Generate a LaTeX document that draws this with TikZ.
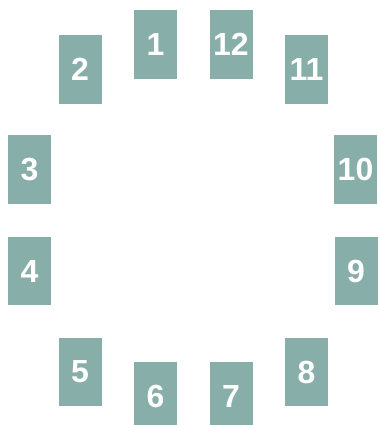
\documentclass[tikz,border=0pt]{standalone}
\usepackage{fontspec}
\setmainfont{Liberation Sans}
\usepackage{xcolor}
\usepackage{tikz}
\definecolor{tileGrey}{RGB}{136,174,170}

\begin{document}
\begin{tikzpicture}[
    x=1pt, y=-1pt,
    font=\fontsize{32}{32}\selectfont\bfseries,
    tile/.style={fill=tileGrey, draw=none, text=white, minimum width=43pt, minimum height=68.5pt, inner sep=0pt, align=center}
  ]
    \useasboundingbox (0,0) rectangle (377,425);

    \node[tile] (n1) at (155.5,44.5) {1};
    \node[tile] (n12) at (231,44.5) {12};
    \node[tile] (n2) at (80,69.5) {2};
    \node[tile] (n11) at (306.5,69.5) {11};
    \node[tile] (n3) at (29.5,169.5) {3};
    \node[tile] (n10) at (355.5,169.5) {10};
    \node[tile] (n4) at (29.5,271) {4};
    \node[tile] (n9) at (356,271) {9};
    \node[tile] (n5) at (80,372) {5};
    \node[tile] (n8) at (306.5,372) {8};
    \node[tile] (n6) at (155.5,396) {6};
    \node[tile] (n7) at (231,396) {7};
  \end{tikzpicture}
\end{document}
